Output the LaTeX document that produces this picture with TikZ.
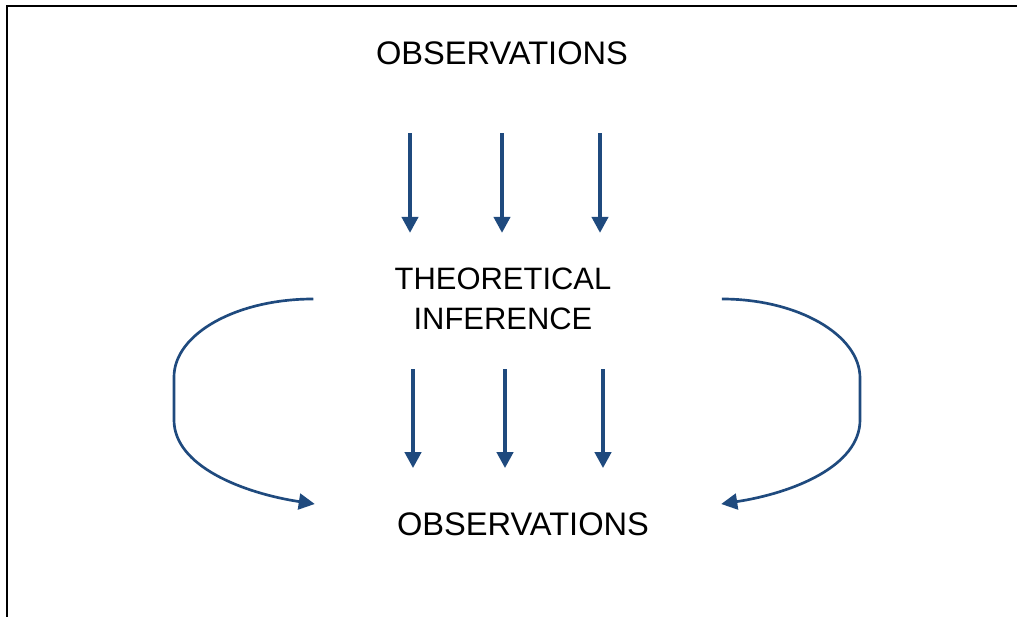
\documentclass[tikz,border=0pt]{standalone}
\usepackage{fontspec}
\setmainfont{Liberation Sans}
\usetikzlibrary{arrows.meta,calc}
\definecolor{ink}{HTML}{000000}
\definecolor{flowblue}{HTML}{1F4A7E}
\tikzset{
  >={Triangle[length=0.4cm,width=0.4cm]},
  every node/.style={font=\fontsize{23.2}{29}\selectfont, text=ink},
  term/.style={inner sep=0pt, align=center},
  drop/.style={->, draw=flowblue, line width=2.8pt},
  sweep/.style={->, draw=flowblue, line width=1.9pt},
  frame/.style={draw=ink, line width=0.06cm},
}
\begin{document}
\begin{tikzpicture}
\useasboundingbox (0,0) rectangle (25.425,15.425);

% open frame (top and left edge only)
\draw[frame] (0.175,0) -- (0.175,15.275) -- (25.425,15.275);

% ================= the three terms =================
\node[term] (obsT) at (12.55,14.09)  {OBSERVATIONS};
\node[term, font=\fontsize{22}{28.5}\selectfont] (theo) at (12.575,7.95) {THEORETICAL\\INFERENCE};
\node[term] (obsB) at (13.075,2.325) {OBSERVATIONS};

% observations feed the inference
\foreach \x in {10.25,12.55,15.0}{
  \draw[drop, shorten <=1.7cm, shorten >=0.87cm] (\x,0 |- obsT.south) -- (\x,0 |- theo.north);
}
% inference predicts new observations
\foreach \x in {10.325,12.625,15.075}{
  \draw[drop, shorten <=0.98cm, shorten >=1.1cm] (\x,0 |- theo.south) -- (\x,0 |- obsB.north);
}

% ---- the two loops round the sides ----
\draw[sweep] ([xshift=-2.03cm]theo.west) .. controls +(-1.925,0) and +(0,1.075) .. (4.35,6.0)
  -- (4.35,4.925) .. controls +(0,-1.15) and +(-1.8,0.275) .. ([shift={(-2.05,0.5)}]obsB.west);
\draw[sweep] ([xshift=2.76cm]theo.east) .. controls +(1.9,0) and +(0,1.075) .. (21.5,5.975)
  -- (21.5,4.925) .. controls +(0,-1.15) and +(1.8,0.275) .. ([shift={(1.8,0.5)}]obsB.east);

\end{tikzpicture}
\end{document}
